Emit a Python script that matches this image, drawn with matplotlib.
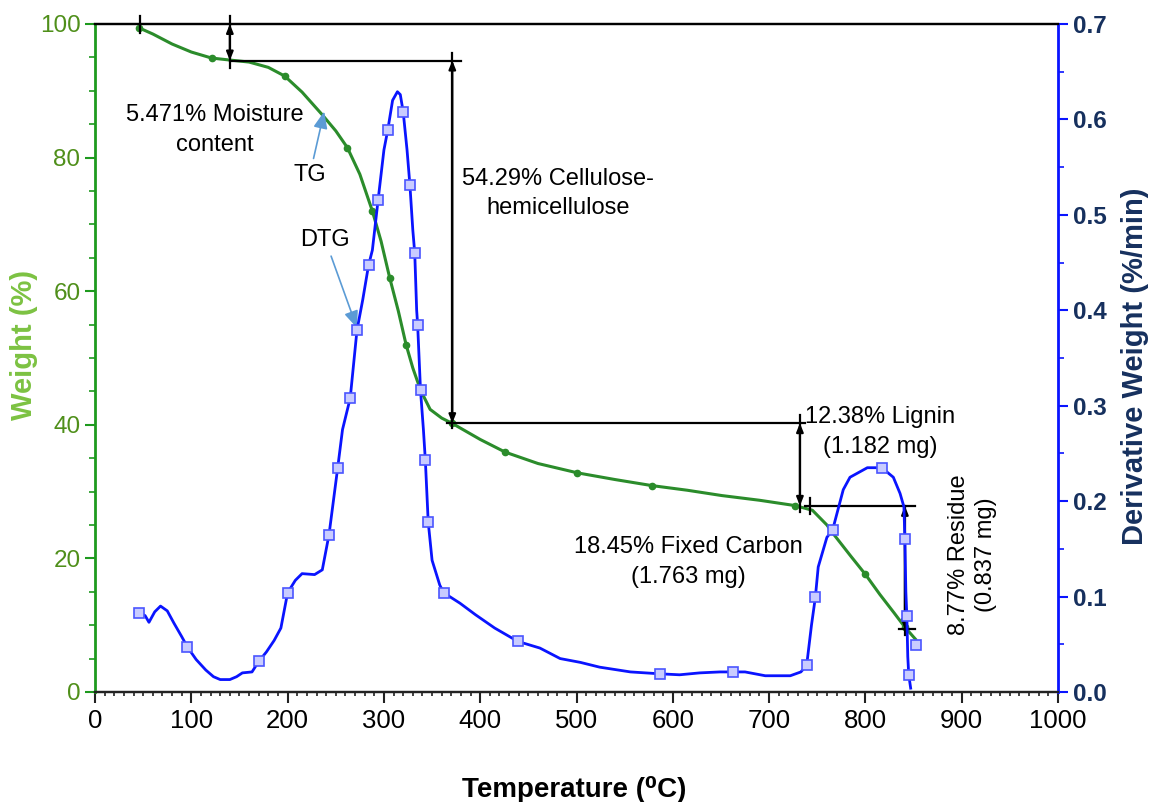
import matplotlib

matplotlib.use("Agg")
import matplotlib.pyplot as plt
from matplotlib.ticker import MultipleLocator, FormatStrFormatter

plt.rcParams["font.family"] = ["Liberation Sans", "DejaVu Sans"]

# TG curve (weight %, left axis)
tg_temp = [46, 60, 80, 100, 121, 140, 160, 180, 197, 215, 236, 250, 262, 275, 288,
           297, 306, 315, 323, 330, 338, 348, 360, 371, 400, 426, 460, 501, 540,
           578, 615, 651, 690, 727, 745, 760, 766, 785, 800, 815, 830, 841, 852]
tg_weight = [99.4, 98.5, 97.0, 95.8, 94.9, 94.6, 94.3, 93.5, 92.2, 89.8, 86.4, 84.0,
             81.5, 77.5, 72.0, 67.5, 62.0, 57.0, 52.0, 48.5, 45.2, 42.3, 41.0, 40.2,
             37.8, 35.9, 34.2, 32.8, 31.8, 30.9, 30.2, 29.4, 28.7, 27.9, 27.2, 25.0,
             23.8, 20.3, 17.6, 14.6, 11.8, 9.7, 7.9]
tg_mark_temps = [46, 121, 197, 262, 288, 306, 323, 371, 426, 501, 578, 727, 800, 841]

# DTG curve (derivative weight %/min, right axis)
dtg_temp = [46, 52, 56, 62, 68, 75, 82, 90, 96, 105, 115, 123, 130, 140, 147, 153,
            163, 170, 178, 186, 193, 200, 208, 215, 228, 236, 243, 252, 257, 265,
            272, 278, 284, 288, 294, 300, 304, 309, 314, 317, 320, 324, 327, 330,
            332, 334, 335, 338, 341, 343, 346, 350, 358, 362, 379, 395, 415, 439,
            462, 483, 504, 524, 556, 587, 607, 628, 649, 663, 675, 696, 722, 733,
            739, 744, 748, 751, 760, 766, 777, 784, 802, 817, 829, 836, 840, 841,
            842, 843, 844, 845, 847]
dtg_rate = [0.083, 0.080, 0.073, 0.084, 0.090, 0.085, 0.072, 0.058, 0.047, 0.034,
            0.023, 0.016, 0.013, 0.013, 0.016, 0.020, 0.021, 0.032, 0.042, 0.054,
            0.067, 0.104, 0.117, 0.124, 0.123, 0.128, 0.165, 0.235, 0.275, 0.308,
            0.379, 0.411, 0.447, 0.463, 0.516, 0.568, 0.589, 0.620, 0.629, 0.626,
            0.608, 0.568, 0.531, 0.484, 0.460, 0.400, 0.385, 0.316, 0.275, 0.243,
            0.178, 0.138, 0.112, 0.104, 0.093, 0.081, 0.067, 0.053, 0.046, 0.035,
            0.031, 0.026, 0.021, 0.019, 0.018, 0.020, 0.021, 0.021, 0.021, 0.017,
            0.017, 0.021, 0.028, 0.070, 0.099, 0.131, 0.162, 0.170, 0.212, 0.225,
            0.235, 0.235, 0.225, 0.208, 0.194, 0.160, 0.105, 0.080, 0.037, 0.018,
            0.004]
dtg_mark_temps = [46, 96, 170, 200, 243, 252, 265, 272, 284, 294, 304, 320, 327, 332,
                  335, 338, 343, 346, 362, 439, 587, 663, 739, 748, 766, 817, 841,
                  843, 845]
dtg_tail_temp = [853]
dtg_tail_rate = [0.049]

# decomposition steps: 100 - 5.471 - 54.29 - 12.38 - 18.45
step_levels = [100, 94.53, 40.24, 27.86, 9.41]
step_temps = [140, 371, 732, 841]
step_labels = ["5.471% Moisture\ncontent", "54.29% Cellulose-\nhemicellulose",
               "12.38% Lignin\n(1.182 mg)", "18.45% Fixed Carbon\n(1.763 mg)",
               "8.77% Residue\n(0.837 mg)"]

fig = plt.figure(figsize=(11.52, 8.02), dpi=100)
ax = fig.add_axes([0.0825, 0.1372, 0.8359, 0.8329])
ax2 = ax.twinx()

green_line = "#2b8c2b"
blue_line = "#0a14ff"

ax.plot(tg_temp, tg_weight, color=green_line, lw=2.2, marker="o", ms=4.5,
        markevery=[tg_temp.index(t) for t in tg_mark_temps], zorder=3)
ax2.plot(dtg_temp, dtg_rate, color=blue_line, lw=2.0, marker="s", ms=7,
         mfc="#c9ccff", mec="#4a55ff", mew=1.2,
         markevery=[dtg_temp.index(t) for t in dtg_mark_temps], zorder=3)
ax2.plot(dtg_tail_temp, dtg_tail_rate, ls="none", marker="s", ms=7,
         mfc="#c9ccff", mec="#4a55ff", mew=1.2)

# step annotation lines
k = dict(color="black", lw=1.6, zorder=4)
arr = dict(arrowstyle="<|-|>,head_length=0.5,head_width=0.2", color="black",
           lw=1.6, shrinkA=0, shrinkB=0)
ax.plot([47, 47], [101.2, 98.6], clip_on=False, **k)
ax.plot([step_temps[0], step_temps[0]], [101.2, 93.4], clip_on=False, **k)
ax.annotate("", xy=(step_temps[0], step_levels[1]), xytext=(step_temps[0], step_levels[0]),
            arrowprops=arr)
ax.plot([step_temps[0], 380], [step_levels[1]] * 2, **k)
ax.plot([step_temps[1], step_temps[1]], [95.6, 39.5], **k)
ax.annotate("", xy=(step_temps[1], step_levels[2]), xytext=(step_temps[1], step_levels[1]),
            arrowprops=arr)
ax.plot([366, 737], [step_levels[2]] * 2, **k)
ax.plot([step_temps[2], step_temps[2]], [41.5, 27.0], **k)
ax.annotate("", xy=(step_temps[2], step_levels[3]), xytext=(step_temps[2], step_levels[2]),
            arrowprops=arr)
ax.plot([737, 852], [step_levels[3]] * 2, **k)
ax.plot([742, 742], [29.0, 26.6], **k)
ax.plot([step_temps[3], step_temps[3]], [step_levels[3], 8.6], **k)
ax.annotate("", xy=(step_temps[3], step_levels[4]), xytext=(step_temps[3], step_levels[3]),
            arrowprops=arr)
ax.plot([835, 852], [step_levels[4]] * 2, **k)

# texts
fs = 17
ls = 1.45
ax.text(124, 84.1, step_labels[0], ha="center", va="center", fontsize=fs, linespacing=ls)
ax.text(481, 74.6, step_labels[1], ha="center", va="center", fontsize=fs, linespacing=ls)
ax.text(815, 38.9, step_labels[2], ha="center", va="center", fontsize=fs, linespacing=ls)
ax.text(616, 19.5, step_labels[3], ha="center", va="center", fontsize=fs, linespacing=ls)
ax.text(911, 20.5, step_labels[4], ha="center", va="center", fontsize=fs, linespacing=1.3,
        rotation=90)

lblue = dict(arrowstyle="-|>,head_length=0.6,head_width=0.25", color="#5b9bd5", lw=1.2,
             shrinkA=2, shrinkB=0)
ax.annotate("TG", xy=(238, 86.9), xytext=(223, 77.4), ha="center", va="center",
            fontsize=fs, arrowprops=lblue)
ax.annotate("DTG", xy=(272, 54.5), xytext=(239, 67.7), ha="center", va="center",
            fontsize=fs, arrowprops=lblue)

# axes
ax.set_xlim(0, 1000)
ax.set_ylim(0, 100)
ax2.set_ylim(0, 0.7)

ax.xaxis.set_major_locator(MultipleLocator(100))
ax.xaxis.set_minor_locator(MultipleLocator(10))
ax.yaxis.set_major_locator(MultipleLocator(20))
ax.yaxis.set_minor_locator(MultipleLocator(5))
ax2.yaxis.set_major_locator(MultipleLocator(0.1))
ax2.yaxis.set_minor_locator(MultipleLocator(0.05))
ax2.yaxis.set_major_formatter(FormatStrFormatter("%.1f"))

ax.tick_params(axis="x", which="major", length=8, width=1.5, color="#222222",
               labelsize=18.5, pad=4)
ax.tick_params(axis="x", which="minor", length=3, width=1.2, color="#222222")
ax.tick_params(axis="y", which="major", length=7, width=1.5, color="#1e9a1e",
               labelsize=17.5, labelcolor="#4f8f1a")
ax.tick_params(axis="y", which="minor", length=4, width=1.2, color="#1e9a1e")
ax2.tick_params(axis="y", which="major", length=7, width=1.5, color=blue_line,
                labelsize=17.5, labelcolor="#16305e")
ax2.tick_params(axis="y", which="minor", length=4, width=1.2, color=blue_line)
for t in ax2.get_yticklabels():
    t.set_fontweight("bold")

for a in (ax, ax2):
    a.spines["top"].set_color("black")
    a.spines["top"].set_linewidth(1.6)
    a.spines["bottom"].set_color("#222222")
    a.spines["bottom"].set_linewidth(1.6)
ax.spines["left"].set_color("#1e9a1e")
ax.spines["left"].set_linewidth(2)
ax2.spines["left"].set_visible(False)
ax2.spines["right"].set_color(blue_line)
ax2.spines["right"].set_linewidth(2)
ax.spines["right"].set_visible(False)

ax.set_xlabel("Temperature (⁰C)", fontsize=20, fontweight="bold", color="black",
              va="center")
ax.xaxis.set_label_coords(0.498, -0.146)
ax.set_ylabel("Weight (%)", fontsize=21, fontweight="bold", color="#7cc242", va="center")
ax.yaxis.set_label_coords(-0.074, 0.52)
ax2.set_ylabel("Derivative Weight (%/min)", fontsize=21, fontweight="bold",
               color="#16305e", va="center", rotation=90)
ax2.yaxis.set_label_coords(1.080, 0.487)

fig.savefig("out.png", dpi=100)
plt.close(fig)
